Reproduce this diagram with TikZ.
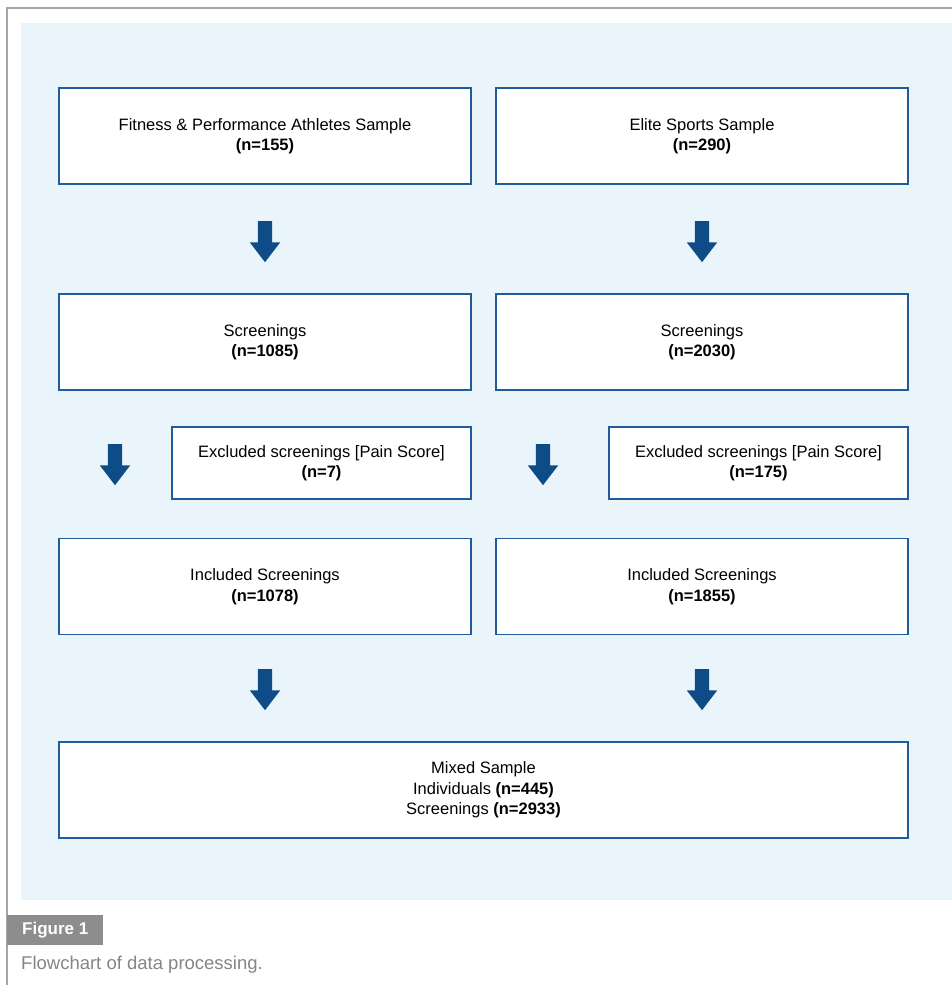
\documentclass[tikz,border=0pt]{standalone}
\usepackage{fontspec}
\setmainfont{Liberation Sans}
\usepackage{tikz}
\usetikzlibrary{positioning,shapes.arrows}
\definecolor{boxblue}{HTML}{1F5C99}
\definecolor{arrowblue}{HTML}{0E4C88}
\definecolor{panel}{HTML}{EAF4FB}
\definecolor{frame}{HTML}{A6A6A6}
\tikzstyle{stage}=[draw=boxblue,line width=1.6pt,fill=white,align=center,minimum width=412pt,minimum height=96pt,inner sep=0pt,font=\fontsize{16.5}{20.5}\selectfont]
\tikzstyle{excl}=[stage,minimum width=299pt,minimum height=72pt]
\tikzstyle{down}=[single arrow,fill=arrowblue,draw=none,shape border rotate=270,minimum height=41pt,minimum width=30pt,inner sep=7pt,single arrow head extend=8pt,single arrow tip angle=75]

\begin{document}
\begin{tikzpicture}[x=1pt,y=-1pt]
\useasboundingbox (0,0) rectangle (952,985);
\fill[panel] (21,23) rectangle (952,900);
\draw[frame,line width=2pt] (952,8) -- (7,8) -- (7,985);
\node [stage] (fitness) at (265,136) {Fitness \& Performance Athletes Sample\\\textbf{(n=155)}};
\node [stage] (elite) at (702,136) {Elite Sports Sample\\\textbf{(n=290)}};
\node [down] (a1) at (265,237) {};
\node [down] (a2) at (702,237) {};
\node [stage] (scrL) at (265,342) {Screenings\\\textbf{(n=1085)}};
\node [stage] (scrR) at (702,342) {Screenings\\\textbf{(n=2030)}};
\node [excl] (exL) at (321.5,463) {Excluded screenings [Pain Score]\\\textbf{(n=7)}};
\node [excl] (exR) at (758.5,463) {Excluded screenings [Pain Score]\\\textbf{(n=175)}};
\node [down] (a3) at (115,460) {};
\node [down] (a4) at (543,460) {};
\node [stage] (incL) at (265,586.5) {Included Screenings\\\textbf{(n=1078)}};
\node [stage] (incR) at (702,586.5) {Included Screenings\\\textbf{(n=1855)}};
\node [down] (a5) at (265,685) {};
\node [down] (a6) at (702,685) {};
\node [stage,minimum width=849pt] (mixed) at (483.5,790) {Mixed Sample\\Individuals \textbf{(n=445)}\\Screenings \textbf{(n=2933)}};
% caption
\node [fill=frame!85!black,text=white,anchor=north west,minimum width=96pt,minimum height=30pt,inner sep=0pt,font=\fontsize{17}{20}\selectfont\bfseries] (figlabel) at (7,915) {Figure 1};
\node [text=frame!80!black,anchor=north west,inner sep=0pt,font=\fontsize{18.5}{22}\selectfont] (caption) at (21,956) {Flowchart of data processing.};
\end{tikzpicture}
\end{document}
